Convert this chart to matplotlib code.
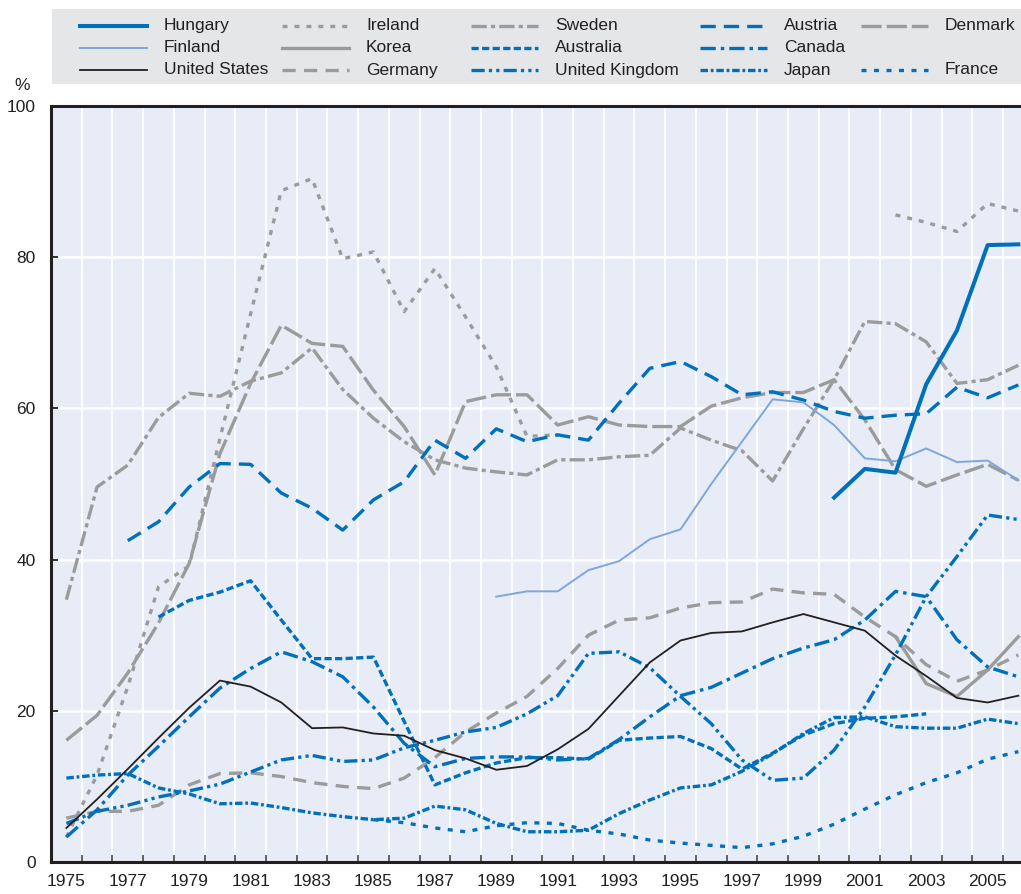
#!/bin/python3

# Libraries
import numpy as np
import matplotlib
matplotlib.use('Agg')
import matplotlib.pyplot as plt
from matplotlib.lines import Line2D
from matplotlib.patches import Rectangle

plt.rcParams['font.family'] = ['Liberation Sans', 'DejaVu Sans']
plt.rcParams['lines.scale_dashes'] = False

nan = np.nan
years = np.arange(1975, 2007)

####################################################################################################
# Data (%)
####################################################################################################

hungary = [nan] * 25 + [48.2, 52.0, 51.5, 63.2, 70.3, 81.6, 81.7]
finland = [nan] * 14 + [35.1, 35.8, 35.8, 38.6, 39.8, 42.7, 44.0, 50.0, 55.6, 61.2, 60.8,
                        57.8, 53.4, 53.0, 54.7, 52.9, 53.1, 50.5]
united_states = [4.5, 8.3, 12.3, 16.4, 20.4, 24.0, 23.2, 21.1, 17.7, 17.8, 17.0, 16.7, 14.8,
                 13.7, 12.2, 12.7, 14.9, 17.6, 22.0, 26.4, 29.3, 30.3, 30.5, 31.7, 32.8, 31.7,
                 30.6, 27.3, 24.6, 21.7, 21.1, 22.0]
ireland = [3.3, 11.5, 23.2, 36.4, 39.2, 56.0, 72.5, 88.8, 90.4, 79.8, 80.7, 72.8, 78.5, 72.1,
           65.5, 56.3, 56.5] + [nan] * 10 + [85.6, 84.6, 83.4, 87.1, 86.1]
korea = [nan] * 27 + [29.8, 23.6, 21.9, 25.4, 29.8]
germany = [5.8, 6.7, 6.7, 7.5, 10.2, 11.7, 11.8, 11.3, 10.5, 10.0, 9.7, 11.1, 13.8, 17.2, 19.7,
           21.9, 25.6, 30.0, 32.0, 32.3, 33.6, 34.3, 34.4, 36.1, 35.6, 35.4, 32.4, 29.8, 26.1,
           23.9, 25.4, 27.4]
sweden = [34.7, 49.6, 52.5, 58.8, 62.0, 61.6, 63.6, 64.7, 68.0, 62.5, 58.7, 55.6, 53.2, 52.1,
          51.6, 51.2, 53.2, 53.2, 53.6, 53.8, 57.4, 55.8, 54.4, 50.4, 57.3, 63.8, 71.5, 71.2,
          68.8, 63.3, 63.8, 65.7]
australia = [nan] * 3 + [32.4, 34.6, 35.7, 37.2, 32.0, 26.9, 26.9, 27.1, 18.6, 10.2, 11.8, 13.1,
                         13.8, 13.8, 13.6, 16.1, 16.4, 16.6, 15.0, 12.3, 14.4, 16.8, 18.3, 19.0,
                         19.2, 19.6] + [nan] * 3
united_kingdom = [5.1, 6.7, 7.5, 8.6, 9.4, 10.3, 11.9, 13.5, 14.1, 13.3, 13.5, 15.1, 16.1, 17.2,
                  17.8, 19.6, 22.0, 27.6, 27.8, 25.7, 21.9, 18.3, 13.5, 10.8, 11.1, 14.8, 20.5,
                  27.4, 35.1, 40.4, 45.9, 45.3]
austria = [nan] * 2 + [42.5, 45.0, 49.6, 52.7, 52.6, 48.8, 46.8, 43.9, 47.9, 50.3, 55.8, 53.4,
                       57.3, 55.6, 56.5, 55.8, 60.7, 65.3, 66.2, 64.2, 61.8, 62.2, 61.1, 59.6,
                       58.7, 59.1, 59.3, 62.8, 61.4, 63.1]
canada = [3.3, 6.9, 11.5, 15.3, 19.2, 23.0, 25.6, 27.8, 26.5, 24.5, 20.5, 15.7, 12.6, 13.7, 13.9,
          13.9, 13.5, 13.7, 16.2, 19.2, 22.0, 23.1, 25.0, 26.9, 28.3, 29.4, 32.0, 35.8, 35.1,
          29.4, 25.8, 24.5]
japan = [11.1, 11.5, 11.7, 9.8, 9.0, 7.7, 7.8, 7.2, 6.5, 6.0, 5.6, 5.8, 7.4, 6.9, 5.1, 4.0, 4.0,
         4.2, 6.4, 8.2, 9.8, 10.2, 12.0, 14.3, 17.0, 19.1, 19.2, 17.9, 17.7, 17.7, 18.9, 18.3]
denmark = [16.1, 19.4, 25.0, 31.6, 39.5, 54.0, 63.3, 71.0, 68.6, 68.2, 62.4, 57.6, 51.2, 60.9,
           61.8, 61.8, 57.8, 58.9, 57.8, 57.6, 57.6, 60.3, 61.4, 62.1, 62.1, 63.8, 58.5, 51.9,
           49.7, 51.2, 52.6, 50.5]
france = [nan] * 10 + [5.6, 5.2, 4.5, 4.0, 4.8, 5.2, 5.1, 4.2, 3.7, 2.9, 2.5, 2.2, 1.9, 2.4, 3.4,
                       5.0, 7.0, 8.9, 10.5, 11.8, 13.6, 14.6]

####################################################################################################
# Styles
####################################################################################################

BLUE = '#0070BA'
GREY = '#9B9B9B'
DARK = '#231F20'

series = [
       # label, values, colour, width, linestyle
       ('Hungary', hungary, BLUE, 2.9, '-'),
       ('Finland', finland, '#7FA6DB', 1.4, '-'),
       ('United States', united_states, DARK, 1.3, '-'),
       ('Ireland', ireland, GREY, 2.4, (0, (3.6, 5.0))),
       ('Korea', korea, GREY, 2.4, '-'),
       ('Germany', germany, GREY, 2.4, (0, (9.5, 6.0))),
       ('Sweden', sweden, GREY, 2.4, (0, (11, 3, 3, 3))),
       ('Australia', australia, BLUE, 2.4, (0, (5.2, 2.4))),
       ('United Kingdom', united_kingdom, BLUE, 2.4, (0, (9.5, 3, 2.3, 3, 2.3, 3))),
       ('Austria', austria, BLUE, 2.4, (0, (11, 5.8))),
       ('Canada', canada, BLUE, 2.4, (0, (11, 3.6, 2.5, 3.6))),
       ('Japan', japan, BLUE, 2.4, (0, (5.4, 2, 2, 2))),
       ('Denmark', denmark, GREY, 2.4, (0, (14.5, 3.6))),
       ('France', france, BLUE, 2.4, (0, (3.6, 5.4))),
]

W, H = 1021, 894
fig = plt.figure(figsize=(W / 100, H / 100), dpi=100)

# axes placed in pixels: left spine x=51, year bands 30.7 px wide, y 0 at 862, 100 at 106
ax = fig.add_axes([51 / W, 32 / H, (1033.7 - 51) / W, 756 / H])
ax.set_facecolor('#E8ECF7')

draw_order = ['Denmark', 'Sweden', 'Germany', 'Ireland', 'Korea', 'France', 'Japan',
              'Australia', 'Canada', 'United Kingdom', 'Austria', 'Finland', 'United States',
              'Hungary']
style = {s[0]: s for s in series}
for z, name in enumerate(draw_order):
       label, values, colour, lw, ls = style[name]
       ax.plot(years, values, color=colour, lw=lw, linestyle=ls, zorder=3 + z * 0.01)

ax.set_xlim(1974.5, 2006.5)
ax.set_ylim(0, 100)

ax.set_xticks(np.arange(1975, 2007, 2))
ax.set_xticks(np.arange(1974.5, 2007, 1), minor=True)
ax.set_yticks(np.arange(0, 101, 20))
ax.tick_params(axis='x', which='major', length=0, pad=9, labelsize=12.5, labelcolor=DARK)
ax.tick_params(axis='x', which='minor', direction='in', length=5, width=1.3, color='#555555')
ax.tick_params(axis='y', direction='in', length=5, width=1.3, color=DARK, pad=11,
               labelsize=12.5, labelcolor=DARK)

ax.grid(axis='x', which='minor', color='white', lw=1.3)
ax.grid(axis='y', which='major', color='white', lw=1.8)
ax.set_axisbelow(True)

for side in ['left', 'bottom', 'top']:
       ax.spines[side].set_color(DARK)
       ax.spines[side].set_linewidth(2.2)
ax.spines['right'].set_visible(False)

fig.text(22 / W, 1 - 86 / H, '%', ha='center', va='center', fontsize=12.5, color=DARK)

####################################################################################################
# Legend - drawn by hand in a grey box above the plot
####################################################################################################

fig.add_artist(Rectangle((52 / W, 1 - 84 / H), (W - 52) / W, 75 / H,
                         transform=fig.transFigure, facecolor='#E5E6E8', edgecolor='none'))

columns = [['Hungary', 'Finland', 'United States'],
           ['Ireland', 'Korea', 'Germany'],
           ['Sweden', 'Australia', 'United Kingdom'],
           ['Austria', 'Canada', 'Japan'],
           ['Denmark', None, 'France']]
col_x = [80, 282, 471, 700, 861]
row_y = [25.5, 47.5, 70]

for cx, names in zip(col_x, columns):
       for ry, name in zip(row_y, names):
              if name is None:
                     continue
              label, values, colour, lw, ls = style[name]
              yy = 1 - ry / H
              fig.add_artist(Line2D([cx / W, (cx + 67) / W], [yy, yy], transform=fig.transFigure,
                                    color=colour, lw=lw, linestyle=ls))
              fig.text((cx + 84) / W, yy, label, ha='left', va='center', fontsize=12.5,
                       color=DARK)

fig.savefig('out.png', dpi=100)
